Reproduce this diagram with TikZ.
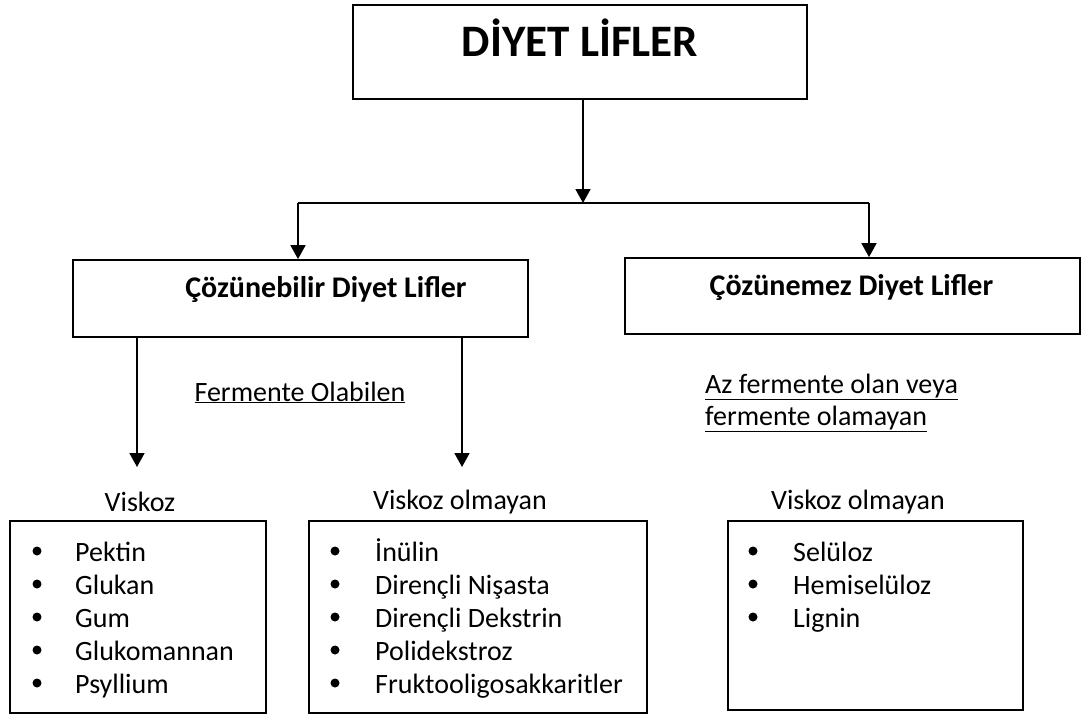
\documentclass[tikz,border=0pt]{standalone}
\usepackage{fontspec}
\setmainfont{Carlito}
\usetikzlibrary{arrows.meta}
\begin{document}
\begin{tikzpicture}[x=1pt,y=-1pt,
  box/.style={draw, line width=1.8pt, inner sep=0pt},
  arr/.style={-{Triangle[width=15pt,length=14pt]}, line width=1.8pt},
  ln/.style={line width=1.8pt},
  body/.style={font=\fontsize{28}{33}\selectfont, inner sep=0pt},
  head/.style={font=\bfseries\fontsize{30}{36}\selectfont, inner sep=0pt},
  ttl/.style={font=\bfseries\fontsize{45}{54}\selectfont, inner sep=0pt},
  dot/.style={circle, fill, inner sep=0pt, minimum size=9pt},
]
\useasboundingbox (0,0) rectangle (1082,717);

% boxes
\node[box, minimum width=454pt, minimum height=94pt] (top) at (580,52) {};
\node[ttl, anchor=base] (toptxt) at (580,57) {DİYET LİFLER};

\node[box, minimum width=455pt, minimum height=77pt] (sol) at (300.5,298.5) {};
\node[head, anchor=base] (soltxt) at (326,297) {Çözünebilir Diyet Lifler};

\node[box, minimum width=455pt, minimum height=76pt] (ins) at (852.5,296) {};
\node[head, anchor=base] (instxt) at (851.5,295) {Çözünemez Diyet Lifler};

% connectors
\coordinate (j) at (583,203);
\coordinate (jl) at (298,203);
\coordinate (jr) at (869,203);
\draw[arr] (top.south -| j) -- (j);
\draw[ln] (jl) -- (jr);
\draw[arr] (jl) -- (jl |- sol.north);
\draw[arr] (jr) -- (jr |- ins.north);

\coordinate (a1) at (137,467);
\coordinate (a2) at (462,467);
\draw[arr] (sol.south -| a1) -- (a1);
\draw[arr] (sol.south -| a2) -- (a2);

% labels
\node[body, anchor=base] (ferm) at (300,401) {\underline{Fermente Olabilen}};
\node[body, anchor=base west] (az1) at (705,393) {\underline{Az fermente olan veya}};
\node[body, anchor=base west] (az2) at (705,425) {\underline{fermente olamayan}};

\node[body, anchor=base] (v1) at (140,511) {Viskoz};
\node[body, anchor=base] (v2) at (460,509) {Viskoz olmayan};
\node[body, anchor=base] (v3) at (858,509) {Viskoz olmayan};

% list boxes
\node[box, minimum width=256pt, minimum height=192pt] (lb) at (138,617) {};
\node[box, minimum width=338pt, minimum height=192pt] (mb) at (478,617) {};
\node[box, minimum width=295pt, minimum height=189pt] (rb) at (875.5,615.5) {};

% left list
\foreach \t [count=\i] in {Pektin,Glukan,Gum,Glukomannan,Psyllium}{
  \node[dot] (ld\i) at (37,{551+33*(\i-1)}) {};
  \node[body, anchor=base west] (lt\i) at (75,{561+33*(\i-1)}) {\t};
}
% middle list
\foreach \t [count=\i] in {İnülin,Dirençli Nişasta,Dirençli Dekstrin,Polidekstroz,Fruktooligosakkaritler}{
  \node[dot] (md\i) at (335,{551+33*(\i-1)}) {};
  \node[body, anchor=base west] (mt\i) at (375,{561+33*(\i-1)}) {\t};
}
% right list
\foreach \t [count=\i] in {Selüloz,Hemiselüloz,Lignin}{
  \node[dot] (rd\i) at (753,{551+33*(\i-1)}) {};
  \node[body, anchor=base west] (rt\i) at (793,{561+33*(\i-1)}) {\t};
}
\end{tikzpicture}
\end{document}
